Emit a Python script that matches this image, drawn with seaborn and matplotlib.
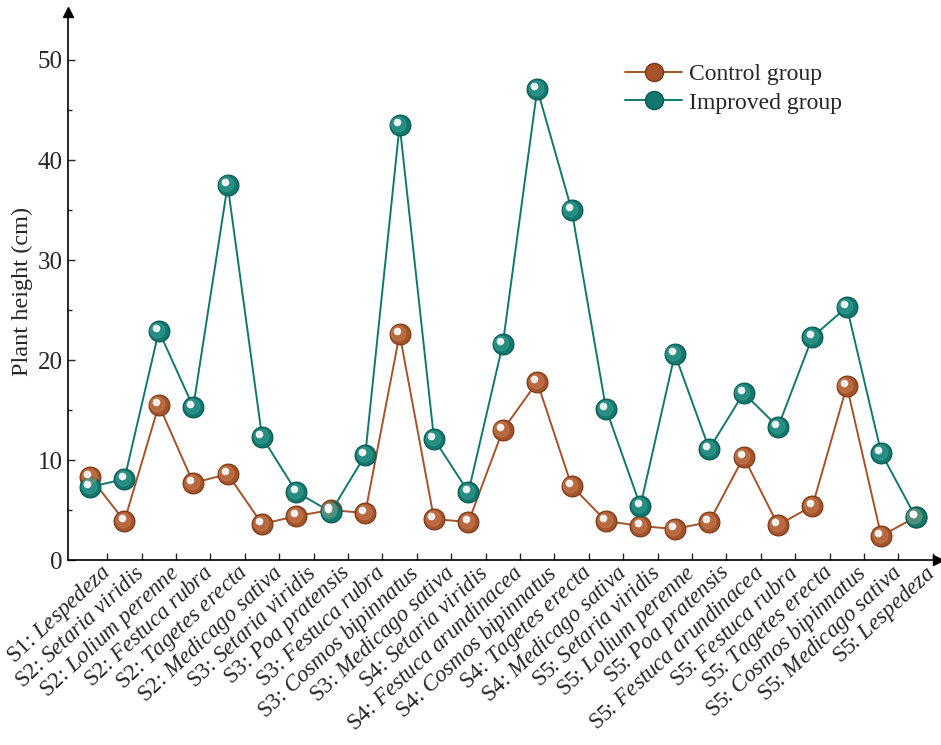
import matplotlib
matplotlib.use("Agg")
import matplotlib.pyplot as plt
import matplotlib.transforms as mtransforms
from matplotlib.lines import Line2D
from matplotlib.ticker import MultipleLocator
import numpy as np
import pandas as pd
import seaborn as sns

# Data
sites = ["S1", "S2", "S2", "S2", "S2", "S2", "S3", "S3", "S3", "S3", "S3",
         "S4", "S4", "S4", "S4", "S4", "S5", "S5", "S5", "S5", "S5", "S5",
         "S5", "S5", "S5"]
species = ["Lespedeza", "Setaria viridis", "Lolium perenne", "Festuca rubra",
           "Tagetes erecta", "Medicago sativa", "Setaria viridis", "Poa pratensis",
           "Festuca rubra", "Cosmos bipinnatus", "Medicago sativa", "Setaria viridis",
           "Festuca arundinacea", "Cosmos bipinnatus", "Tagetes erecta",
           "Medicago sativa", "Setaria viridis", "Lolium perenne", "Poa pratensis",
           "Festuca arundinacea", "Festuca rubra", "Tagetes erecta",
           "Cosmos bipinnatus", "Medicago sativa", "Lespedeza"]
control = [8.3, 3.9, 15.5, 7.7, 8.6, 3.6, 4.4, 5.0, 4.7, 22.6, 4.1, 3.8, 13.0,
           17.8, 7.4, 3.9, 3.4, 3.1, 3.8, 10.3, 3.5, 5.4, 17.4, 2.4, 4.3]
improved = [7.3, 8.1, 22.9, 15.3, 37.5, 12.3, 6.8, 4.8, 10.5, 43.5, 12.1, 6.8,
            21.6, 47.1, 35.0, 15.1, 5.4, 20.6, 11.1, 16.7, 13.3, 22.3, 25.3,
            10.7, 4.3]

groups = ["Control group", "Improved group"]
colors = {"Control group": "#A4532A", "Improved group": "#11786E"}
dark = {"Control group": "#7A3512", "Improved group": "#07564E"}
light = {"Control group": "#C97C52", "Improved group": "#3A9E93"}

labels = []
for s, sp in zip(sites, species):
    labels.append(s + ": $\\mathit{" + sp.replace(" ", "\\ ") + "}$")

df = pd.DataFrame({
    "pos": list(range(len(control))) * 2,
    "value": control + improved,
    "group": [groups[0]] * len(control) + [groups[1]] * len(improved),
})

sns.set_style("white")
plt.rcParams["font.family"] = ["Liberation Serif", "DejaVu Serif"]
plt.rcParams["mathtext.fontset"] = "custom"
plt.rcParams["mathtext.rm"] = "Liberation Serif"
plt.rcParams["mathtext.it"] = "Liberation Serif:italic"

fig = plt.figure(figsize=(9.41, 7.45), dpi=100)
ax = fig.add_axes([0.0723, 0.2483, 0.9245, 0.7356])

for g in groups:
    sub = df[df["group"] == g]
    sns.lineplot(data=sub, x="pos", y="value", color=colors[g], lw=1.4,
                 marker="o", markersize=15, markerfacecolor=colors[g],
                 markeredgecolor=dark[g], markeredgewidth=0.8, ax=ax,
                 legend=False, zorder=3)
    # fake sphere shading
    ax.plot(sub["pos"], sub["value"], ls="none", marker="o", markersize=10.5,
            color=light[g], alpha=0.55, zorder=4,
            transform=mtransforms.offset_copy(ax.transData, fig=fig, x=-1, y=1, units="points"))
    ax.plot(sub["pos"], sub["value"], ls="none", marker="o", markersize=4.5,
            color="white", alpha=0.9, zorder=5,
            transform=mtransforms.offset_copy(ax.transData, fig=fig, x=-2, y=2.2, units="points"))

ax.set_xlim(-0.64, 24.65)
ax.set_ylim(0, 54.8)

ax.set_xticks(np.arange(len(labels)) + 0.5)
ax.set_xticklabels(labels, rotation=43, ha="right", va="center",
                   rotation_mode="anchor", fontsize=16.5)
ax.yaxis.set_major_locator(MultipleLocator(10))
ax.yaxis.set_minor_locator(MultipleLocator(5))
ax.tick_params(axis="y", which="major", direction="in", length=5, width=1,
               labelsize=18, left=True, pad=4)
ax.tick_params(axis="y", which="minor", direction="in", length=3, width=1, left=True)
ax.tick_params(axis="x", which="major", direction="in", length=5, width=1,
               bottom=True, pad=7)
ax.set_xlabel("")
ax.set_ylabel("Plant height (cm)", fontsize=17.5)
ax.yaxis.set_label_coords(-0.040, 0.49)

for side in ["top", "right"]:
    ax.spines[side].set_visible(False)
for side in ["left", "bottom"]:
    ax.spines[side].set_linewidth(1.2)
    ax.spines[side].set_color("black")
ax.plot(0, 1, marker="^", color="black", markersize=7, transform=ax.transAxes,
        clip_on=False)
ax.plot(1, 0, marker=">", color="black", markersize=7, transform=ax.transAxes,
        clip_on=False)

handles = [Line2D([], [], color=colors[g], lw=1.4, marker="o", markersize=13,
                  markerfacecolor=colors[g], markeredgecolor=dark[g]) for g in groups]
ax.legend(handles, groups, loc="upper left", bbox_to_anchor=(0.616, 0.945),
          frameon=False, fontsize=17, handlelength=2.4, handletextpad=0.3,
          labelspacing=0.3)

fig.savefig("out.png", dpi=100)
